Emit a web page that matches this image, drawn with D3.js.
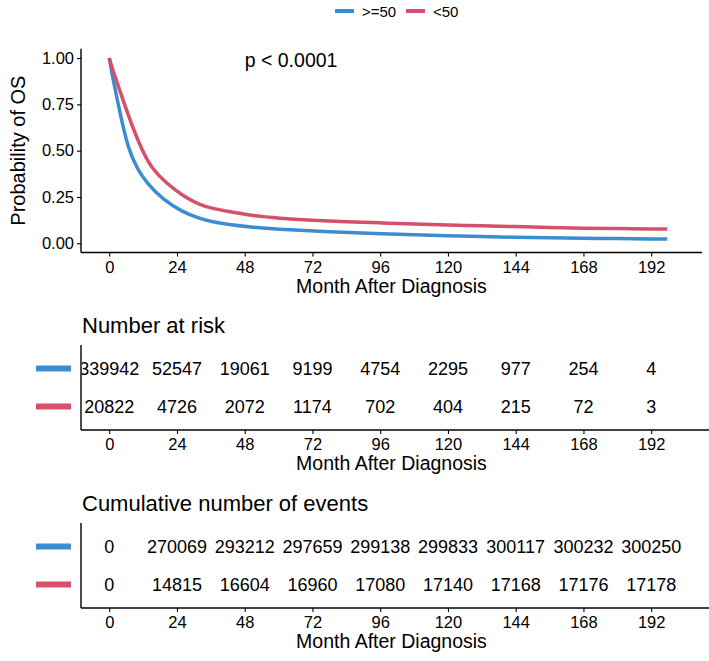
<!DOCTYPE html>
<html><head><meta charset="utf-8">
<script src="https://cdn.jsdelivr.net/npm/d3@7"></script>
<style>
body{margin:0;background:#fff}
svg text{font-family:"Liberation Sans",Arial,Helvetica,sans-serif;fill:#000}
</style>
</head><body>
<svg id="chart" width="709" height="661"></svg>
<script>
// ---------------- data ----------------
const groups = [">=50", "<50"];
const groupColors = ["#3B8DD0", "#D7506B"];

const monthsBlue = [0,1,2,4,6.8,10,13.3,19.2,26,32,36,42,51,60,72,89,96,108,120,132,144,156,168,180,192,197.7];
const survBlue   = [1.0,0.915,0.838,0.69,0.505,0.40,0.324,0.234,0.168,0.134,0.117,0.101,0.086,0.076,0.066,0.056,0.052,0.046,0.040,0.036,0.032,0.029,0.027,0.025,0.023,0.023];

const monthsRed = [0,1.5,3.3,7.2,11.5,15,19.8,26.5,32.2,36,42,51,60,72,84,96,108,120,132,144,156,168,180,192,197.7];
const survRed   = [1.0,0.925,0.845,0.67,0.504,0.405,0.33,0.25,0.207,0.19,0.172,0.148,0.135,0.124,0.116,0.110,0.104,0.099,0.094,0.090,0.085,0.081,0.079,0.077,0.077];

const xTickValues = [0,24,48,72,96,120,144,168,192];
const yTickValues = [0,0.25,0.5,0.75,1];
const yTickLabels = ["0.00","0.25","0.50","0.75","1.00"];

const riskBlue = ["339942","52547","19061","9199","4754","2295","977","254","4"];
const riskRed  = ["20822","4726","2072","1174","702","404","215","72","3"];
const eventsBlue = ["0","270069","293212","297659","299138","299833","300117","300232","300250"];
const eventsRed  = ["0","14815","16604","16960","17080","17140","17168","17176","17178"];

const pLabel = "p < 0.0001";
const xTitle = "Month After Diagnosis";
const yTitle = "Probability of OS";
const riskTitle = "Number at risk";
const eventsTitle = "Cumulative number of events";

// ---------------- layout ----------------
const svg = d3.select("#chart");
const W = 709;
const left = 81, right = 702;

const x = d3.scaleLinear().domain([-10, 210]).range([left, right]);
const y = d3.scaleLinear().domain([-0.05, 1.05]).range([252.5, 48.8]);

// legend
const legend = svg.append("g");
const legItems = [{x0:335, tx:362}, {x0:406, tx:433}];
groups.forEach((g,i)=>{
  legend.append("line").attr("x1",legItems[i].x0).attr("x2",legItems[i].x0+19)
    .attr("y1",11).attr("y2",11).attr("stroke",groupColors[i]).attr("stroke-width",4);
  legend.append("text").attr("x",legItems[i].tx).attr("y",16.5)
    .style("font-size","15px").text(g);
});

// main plot axes
const xAxis = d3.axisBottom(x).tickValues(xTickValues).tickSize(4).tickSizeOuter(0).tickPadding(5);
const gx = svg.append("g").attr("transform",`translate(0,${y(-0.05)})`).call(xAxis);
gx.select(".domain").remove();
gx.selectAll("line").attr("stroke","#000").attr("stroke-width",1.1);
gx.selectAll("text").style("font-size","16.5px").attr("fill","#000");
svg.append("line").attr("x1",left).attr("x2",right).attr("y1",y(-0.05)).attr("y2",y(-0.05))
  .attr("stroke","#000").attr("stroke-width",1.4);

const yAxis = d3.axisLeft(y).tickValues(yTickValues).tickFormat((d,i)=>yTickLabels[i]).tickSize(4).tickSizeOuter(0).tickPadding(3);
const gy = svg.append("g").attr("transform",`translate(${left},0)`).call(yAxis);
gy.select(".domain").remove();
gy.selectAll("line").attr("stroke","#000").attr("stroke-width",1.1);
gy.selectAll("text").style("font-size","16.5px").attr("fill","#000");
svg.append("line").attr("x1",left).attr("x2",left).attr("y1",y(1.05)).attr("y2",y(-0.05))
  .attr("stroke","#000").attr("stroke-width",1.4);

svg.append("text").attr("x",(left+right)/2).attr("y",292.5).attr("text-anchor","middle")
  .style("font-size","19.5px").text(xTitle);
svg.append("text").attr("transform",`translate(25,${(y(1.05)+y(-0.05))/2}) rotate(-90)`)
  .attr("text-anchor","middle").style("font-size","20px").text(yTitle);

// curves
const line = d3.line().x(d=>x(d[0])).y(d=>y(d[1])).curve(d3.curveBasis);
const curves = [d3.zip(monthsBlue, survBlue), d3.zip(monthsRed, survRed)];
curves.forEach((c,i)=>{
  svg.append("path").datum(c).attr("d",line).attr("fill","none")
    .attr("stroke",groupColors[i]).attr("stroke-width",3.5).attr("stroke-linejoin","round");
});

svg.append("text").attr("x",x(48)).attr("y",y(1)+8.5).style("font-size","19.5px").text(pLabel);

// ---------------- tables ----------------
svg.append("defs").append("clipPath").attr("id","tclip")
  .append("rect").attr("x",left+1).attr("y",0).attr("width",W-left-1).attr("height",661);

function drawTable(title, titleBase, top, bottom, rows){
  svg.append("text").attr("x",left+1).attr("y",titleBase).style("font-size","22px").text(title);
  const ry = d3.scalePoint().domain(groups).range([top+23.5, bottom-23.5]);
  groups.forEach((g,i)=>{
    svg.append("line").attr("x1",36).attr("x2",71).attr("y1",ry(g)).attr("y2",ry(g))
      .attr("stroke",groupColors[i]).attr("stroke-width",6);
  });
  const tg = svg.append("g").attr("clip-path","url(#tclip)");
  groups.forEach((g,i)=>{
    tg.selectAll(null).data(rows[i]).enter().append("text")
      .attr("x",(d,j)=>x(xTickValues[j])).attr("y",ry(g)).attr("dy","0.36em")
      .attr("text-anchor","middle").style("font-size","18px").text(d=>d);
  });
  const ax = d3.axisBottom(x).tickValues(xTickValues).tickSize(4).tickSizeOuter(0).tickPadding(4.5);
  const g = svg.append("g").attr("transform",`translate(0,${bottom})`).call(ax);
  g.select(".domain").remove();
  g.selectAll("line").attr("stroke","#000").attr("stroke-width",1.1);
  g.selectAll("text").style("font-size","16.5px").attr("fill","#000");
  svg.append("line").attr("x1",left).attr("x2",W).attr("y1",bottom).attr("y2",bottom)
    .attr("stroke","#000").attr("stroke-width",1.4);
  svg.append("line").attr("x1",left).attr("x2",left).attr("y1",top).attr("y2",bottom)
    .attr("stroke","#000").attr("stroke-width",1.4);
  svg.append("text").attr("x",(left+right)/2).attr("y",bottom+39.5).attr("text-anchor","middle")
    .style("font-size","19.5px").text(xTitle);
}

drawTable(riskTitle, 333, 345, 430, [riskBlue, riskRed]);
drawTable(eventsTitle, 511, 523, 608, [eventsBlue, eventsRed]);
</script>
</body></html>
